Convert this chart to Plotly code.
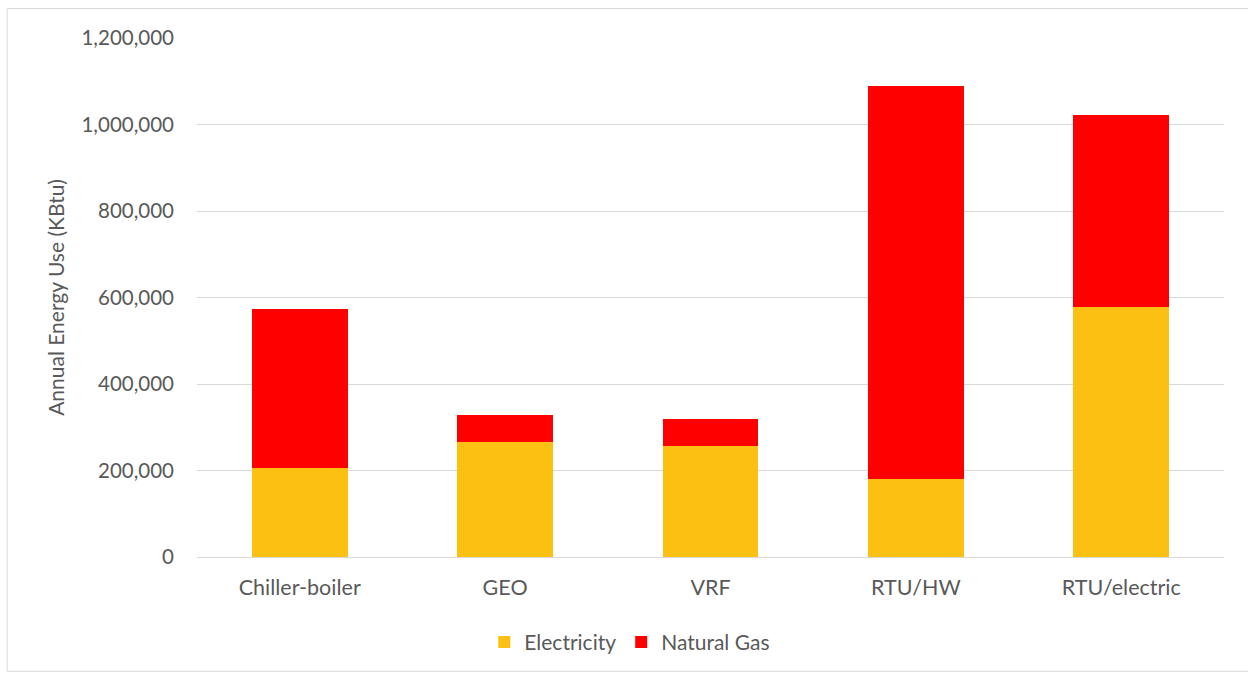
import plotly.graph_objects as go

categories = ["Chiller-boiler", "GEO", "VRF", "RTU/HW", "RTU/electric"]
electricity = [206000, 265000, 256000, 180000, 577000]
natural_gas = [367000, 64000, 63000, 908000, 446000]
y_ticks = [0, 200000, 400000, 600000, 800000, 1000000, 1200000]
y_tick_labels = ["0", "200,000", "400,000", "600,000", "800,000", "1,000,000", "1,200,000"]

W, H = 1248, 675
ml, mr, mt, mb = 197, 23.5, 37.5, 117.5
pw, ph = W - ml - mr, H - mt - mb

font_family = "Lato, 'Open Sans', sans-serif"
gray = "#595959"

fig = go.Figure()
fig.add_trace(go.Bar(name="Electricity", x=categories, y=electricity,
                     marker=dict(color="#FBC012", line=dict(width=0))))
fig.add_trace(go.Bar(name="Natural Gas", x=categories, y=natural_gas,
                     marker=dict(color="#FF0000", line=dict(width=0))))

# outer chart border (paper coords relative to plot area)
fig.add_shape(type="rect", xref="paper", yref="paper",
              x0=(7 - ml) / pw, x1=(1252 - ml) / pw,
              y0=-(672 - (mt + ph)) / ph, y1=1 + (mt - 8) / ph,
              line=dict(color="#D9D9D9", width=1), fillcolor="rgba(0,0,0,0)", layer="below")

fig.update_layout(
    barmode="stack",
    bargap=0.533,
    width=W, height=H,
    margin=dict(l=ml, r=mr, t=mt, b=mb, autoexpand=False),
    paper_bgcolor="white",
    plot_bgcolor="white",
    font=dict(family=font_family, color=gray, size=21),
    showlegend=True,
    legend=dict(orientation="h", x=(630 - ml) / pw, xanchor="center",
                y=-(643 - (mt + ph)) / ph, yanchor="middle",
                font=dict(size=21, color=gray), traceorder="normal",
                itemwidth=30, bgcolor="rgba(0,0,0,0)"),
    xaxis=dict(showgrid=False, showline=False, ticks="", tickfont=dict(size=21.5, color=gray),
               ticklabelstandoff=15),
    yaxis=dict(range=[0, 1200000], tickvals=y_ticks, ticktext=y_tick_labels,
               showgrid=True, gridcolor="#D9D9D9", gridwidth=1.3, zeroline=True,
               zerolinecolor="#D9D9D9", zerolinewidth=1.3, showline=False, ticks="",
               tickfont=dict(size=20.5, color=gray), ticklabelstandoff=22,
               title=dict(text="Annual Energy Use (KBtu)", font=dict(size=21, color=gray),
                          standoff=11)),
)

fig.write_html("out.html")
